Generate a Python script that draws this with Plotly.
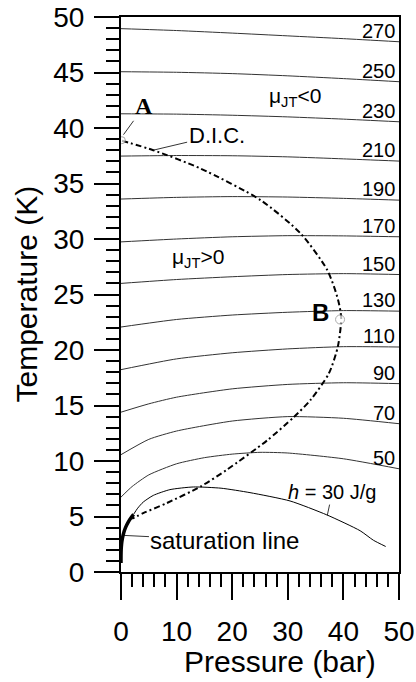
import plotly.graph_objects as go

# ---- isenthalps of helium: temperature (K) versus pressure (bar) ----
p_even = [0, 10, 20, 30, 40, 50]
t_h270 = [48.95, 48.78, 48.55, 48.30, 48.05, 47.77]
t_h250 = [45.07, 45.02, 44.90, 44.70, 44.45, 44.17]
t_h230 = [41.28, 41.25, 41.15, 41.00, 40.80, 40.56]
t_h210 = [37.47, 37.52, 37.50, 37.40, 37.22, 37.02]
t_h190 = [33.60, 33.75, 33.82, 33.78, 33.66, 33.50]
t_h170 = [29.74, 30.00, 30.20, 30.30, 30.28, 30.20]
t_h150 = [26.00, 26.35, 26.60, 26.80, 26.88, 26.80]
t_h130 = [22.07, 22.75, 23.15, 23.40, 23.55, 23.50]
t_h110 = [18.23, 19.20, 19.75, 20.10, 20.30, 20.27]

p_h90 = [0, 5, 10, 20, 30, 40, 50]
t_h90 = [14.40, 15.15, 15.75, 16.50, 16.90, 17.05, 16.97]
p_h70 = [0, 5, 10, 20, 30, 40, 50]
t_h70 = [10.57, 11.95, 12.70, 13.60, 14.00, 13.85, 13.36]
p_h50 = [0, 2, 5, 10, 15, 20, 25, 30, 40, 50]
t_h50 = [6.75, 7.70, 8.75, 9.75, 10.30, 10.62, 10.78, 10.72, 10.20, 9.30]
p_h30 = [2.27, 3.0, 4.0, 5.8, 8.8, 13.0, 18.0, 23.2, 30.4, 37.0, 43.0, 45.4, 47.6]
t_h30 = [5.20, 5.75, 6.30, 6.90, 7.42, 7.66, 7.55, 7.15, 6.40, 5.15, 3.72, 2.86, 2.30]

# labelled isenthalps (J/g), drawn with a value tag at the right edge
labelled = [
    (270, p_even, t_h270), (250, p_even, t_h250), (230, p_even, t_h230),
    (210, p_even, t_h210), (190, p_even, t_h190), (170, p_even, t_h170),
    (150, p_even, t_h150), (130, p_even, t_h130), (110, p_even, t_h110),
    (90, p_h90, t_h90), (70, p_h70, t_h70), (50, p_h50, t_h50),
]

# saturation line (liquid-vapour), up to the critical point
p_sat = [0.0001, 0.005, 0.031, 0.10, 0.24, 0.47, 0.81, 1.30, 1.96, 2.27]
t_sat = [0.8, 1.5, 2.0, 2.5, 3.0, 3.5, 4.0, 4.5, 5.0, 5.2]

# Joule-Thomson inversion curve (D.I.C.)
p_dic = [0.2, 5.8, 14.3, 25.1, 32.3, 37.1, 39.0, 39.6, 39.0, 37.4,
         34.1, 31.1, 26.3, 19.0, 14.3, 8.2, 4.0, 2.0]
t_dic = [38.85, 38.0, 36.35, 33.5, 30.5, 27.2, 24.6, 22.9, 20.3, 17.9,
         15.5, 13.96, 11.86, 9.2, 7.7, 6.2, 5.3, 4.8]

# marked points
point_a = (0.15, 38.9)
point_b = (39.4, 22.75)

FONT = "Arial, Liberation Sans, sans-serif"
LINE = "#333333"

fig = go.Figure()

for h, p, t in labelled:
    fig.add_trace(go.Scatter(x=p, y=t, mode="lines",
                             line=dict(color=LINE, width=1, shape="spline", smoothing=0.6),
                             hoverinfo="skip"))
    fig.add_annotation(x=50, y=t[-1], text=str(h), showarrow=False,
                       xanchor="right", yanchor="middle", xshift=-2, yshift=11,
                       font=dict(family=FONT, size=20, color="black"))

fig.add_trace(go.Scatter(x=p_h30, y=t_h30, mode="lines",
                         line=dict(color="black", width=1, shape="spline", smoothing=0.6),
                         hoverinfo="skip"))

fig.add_trace(go.Scatter(x=p_sat, y=t_sat, mode="lines",
                         line=dict(color="black", width=3.5, shape="spline"),
                         hoverinfo="skip"))

fig.add_trace(go.Scatter(x=p_dic, y=t_dic, mode="lines",
                         line=dict(color="black", width=2, shape="spline", smoothing=0.7,
                                   dash="6px,3px,2px,3px"),
                         hoverinfo="skip"))

fig.add_trace(go.Scatter(x=[point_a[0], point_b[0]], y=[point_a[1], point_b[1]],
                         mode="markers",
                         marker=dict(size=[7, 9], color="white",
                                     line=dict(color="#888888", width=1)),
                         hoverinfo="skip"))

# point labels with leader lines
fig.add_annotation(x=0.45, y=39.4, ax=4.15, ay=41.95, axref="x", ayref="y",
                   text="<b>A</b>", showarrow=True, arrowhead=0, arrowwidth=0.8,
                   arrowcolor="black",
                   font=dict(family="Times New Roman, Liberation Serif, serif", size=24,
                             color="black"))
fig.add_annotation(x=35.9, y=23.4, text="<b>B</b>", showarrow=False,
                   font=dict(family=FONT, size=24, color="black"))
fig.add_annotation(x=5.8, y=38.0, ax=17.2, ay=39.35, axref="x", ayref="y",
                   text="D.I.C.", showarrow=True, arrowhead=0, arrowwidth=0.8,
                   arrowcolor="black", font=dict(family=FONT, size=22, color="black"))
fig.add_annotation(x=37.1, y=5.1, ax=38.0, ay=7.2, axref="x", ayref="y",
                   text="<i>h</i> = 30 J/g", showarrow=True, arrowhead=0, arrowwidth=0.8,
                   arrowcolor="black", font=dict(family=FONT, size=20, color="black"))
fig.add_annotation(x=0.37, y=3.3, ax=18.7, ay=2.85, axref="x", ayref="y",
                   text="saturation line", showarrow=True, arrowhead=0, arrowwidth=0.8,
                   arrowcolor="black", font=dict(family=FONT, size=24, color="black"))

# Joule-Thomson coefficient regions
fig.add_annotation(x=31.3, y=42.8, text="μ<sub>JT</sub><0", showarrow=False,
                   font=dict(family=FONT, size=21, color="black"))
fig.add_annotation(x=13.9, y=28.3, text="μ<sub>JT</sub>>0", showarrow=False,
                   font=dict(family=FONT, size=21, color="black"))

# axis titles
fig.add_annotation(xref="paper", yref="paper", x=-0.3417, y=0.5,
                   xanchor="center", yanchor="middle",
                   text="Temperature (K)", textangle=-90, showarrow=False,
                   font=dict(family=FONT, size=30, color="black"))
fig.add_annotation(xref="paper", yref="paper", x=0.572, y=-0.161,
                   xanchor="center", yanchor="middle",
                   text="Pressure (bar)", showarrow=False,
                   font=dict(family=FONT, size=30, color="black"))

axis_common = dict(
    showgrid=False, zeroline=False, showline=True, linecolor="black", linewidth=2,
    mirror=True, ticks="outside", tickcolor="black", tickwidth=2, automargin=False,
    tickfont=dict(family=FONT, size=28, color="black"),
)

fig.update_xaxes(range=[0, 50], tickvals=[0, 10, 20, 30, 40, 50], ticklen=26,
                 ticklabelstandoff=7,
                 minor=dict(dtick=2, ticklen=13, tickwidth=2, tickcolor="black",
                            ticks="outside", showgrid=False),
                 **axis_common)
fig.update_yaxes(range=[0, 50], tickvals=[0, 5, 10, 15, 20, 25, 30, 35, 40, 45, 50],
                 ticklen=25, ticklabelstandoff=4,
                 minor=dict(dtick=1, ticklen=13, tickwidth=2, tickcolor="black",
                            ticks="outside", showgrid=False),
                 **axis_common)

fig.update_layout(
    width=416, height=682,
    margin=dict(l=121, r=17, t=17, b=110, autoexpand=False),
    paper_bgcolor="white", plot_bgcolor="white",
    showlegend=False,
)

fig.write_html("out.html")
